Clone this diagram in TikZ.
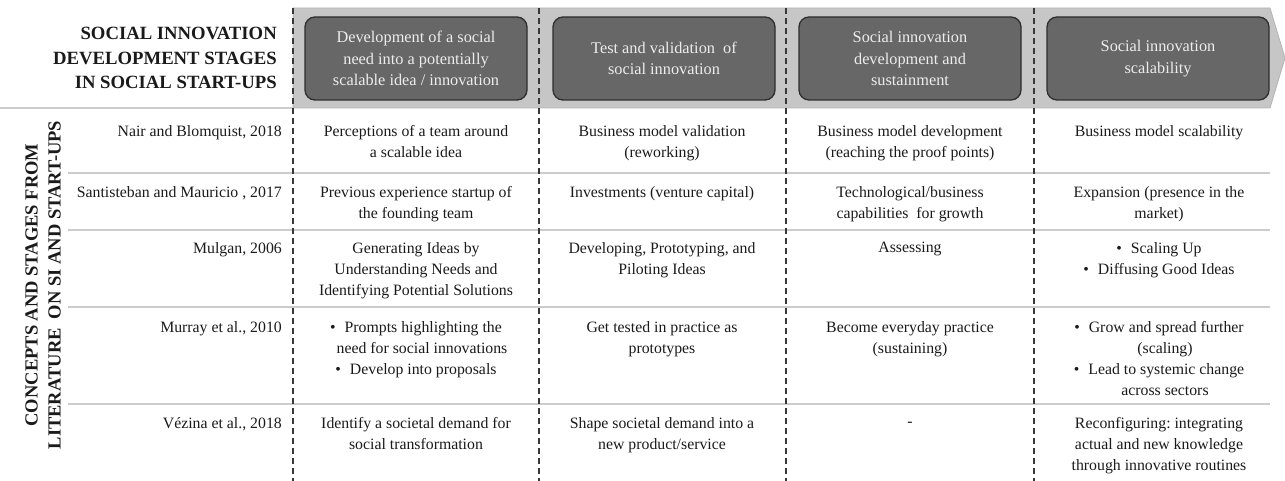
\documentclass[tikz,border=0pt]{standalone}
\usepackage{fontspec}
\setmainfont{Liberation Serif}
\definecolor{bandgray}{HTML}{C6C6C6}
\definecolor{bandedge}{HTML}{B4B4B4}
\definecolor{boxgray}{HTML}{676767}
\definecolor{boxedge}{HTML}{2E2E2E}
\definecolor{boxtext}{HTML}{EDEDED}
\definecolor{rulegray}{HTML}{CCCCCC}
\definecolor{dashgray}{HTML}{383838}
\definecolor{ink}{HTML}{1A1A1A}
\tikzset{
  cell/.style={font=\fontsize{15.8}{21}\selectfont, align=center, anchor=north, inner sep=0pt, text=ink},
  cite/.style={font=\fontsize{15.8}{21}\selectfont, align=right, anchor=north east, inner sep=0pt, text=ink},
  stagebox/.style={draw=boxedge, line width=1.3pt, fill=boxgray, rounded corners=10pt,
    minimum width=222pt, minimum height=83pt, inner sep=0pt, text=boxtext, align=center,
    font=\fontsize{16.3}{21.5}\selectfont},
  titletext/.style={font=\bfseries\fontsize{18.7}{24.5}\selectfont, align=right, inner sep=0pt, text=ink},
  sidetext/.style={font=\bfseries\fontsize{18.5}{23}\selectfont, align=center, inner sep=0pt, text=ink, rotate=90},
  colsep/.style={dashgray, line width=1.3pt, dash pattern=on 6pt off 4pt},
  rowrule/.style={rulegray, line width=1.4pt},
}
\begin{document}
\begin{tikzpicture}[x=1pt,y=-1pt]
\useasboundingbox (0,0) rectangle (1285,481);
% header band (arrow)
\path[fill=bandgray, draw=bandedge, line width=0.8pt]
  (293,8) -- (1270,8) -- (1285,58) -- (1270,108) -- (293,108) -- cycle;
% stage boxes
\node[stagebox] (s1) at (416,58.5) {Development of a social\\need into a potentially\\scalable idea / innovation};
\node[stagebox] (s2) at (664,58.5) {Test and validation\ \ of\\social innovation};
\node[stagebox] (s3) at (910,58.5) {Social innovation\\development and\\sustainment};
\node[stagebox] (s4) at (1158,58.5) {Social innovation\\scalability};
% title
\node[titletext, anchor=east] (title) at (277,58) {SOCIAL INNOVATION\\DEVELOPMENT STAGES\\IN SOCIAL START-UPS};
% side label
\node[sidetext] (side) at (43,285) {CONCEPTS AND STAGES FROM\\LITERATURE\ \ ON SI AND START-UPS};
% rules
\draw[rowrule] (0,108) -- (293,108);
\foreach \yy in {173,230,307,404} \draw[rowrule] (68,\yy) -- (1270,\yy);
% column separators
\foreach \xx in {293,539,786,1034} \draw[colsep] (\xx,8) -- (\xx,481);
% citations
\node[cite] (c1) at (282,125) {Nair and Blomquist, 2018};
\node[cite] (c2) at (282,186) {Santisteban and Mauricio\ , 2017};
\node[cite] (c3) at (282,242) {Mulgan, 2006};
\node[cite] (c4) at (282,321) {Murray et al., 2010};
\node[cite] (c5) at (282,417) {Vézina et al., 2018};
% row 1
\node[cell] (r1a) at (416,125) {Perceptions of a team around\\a scalable\ idea};
\node[cell] (r1b) at (662,125) {Business model validation\\(reworking)};
\node[cell] (r1c) at (910,125) {Business model development\\(reaching the proof points)};
\node[cell] (r1d) at (1159,125) {Business model scalability};
% row 2
\node[cell] (r2a) at (416,186) {Previous experience startup of\\the founding team};
\node[cell] (r2b) at (662,186) {Investments (venture capital)};
\node[cell] (r2c) at (910,186) {Technological/business\\capabilities\ \ for growth};
\node[cell] (r2d) at (1159,186) {Expansion (presence in the\\market)};
% row 3
\node[cell] (r3a) at (416,242) {Generating Ideas by\\Understanding Needs and\\Identifying Potential Solutions};
\node[cell] (r3b) at (662,242) {Developing, Prototyping, and\\Piloting Ideas};
\node[cell] (r3c) at (910,242) {Assessing};
\node[cell] (r3d) at (1159,242) {•\hspace{9pt}Scaling Up\\•\hspace{9pt}Diffusing Good Ideas};
% row 4
\node[cell] (r4a) at (416,321) {•\hspace{9pt}Prompts highlighting the\\\hspace{12pt}need for social innovations\\•\hspace{9pt}Develop into proposals};
\node[cell] (r4b) at (662,321) {Get tested in practice as\\prototypes};
\node[cell] (r4c) at (910,321) {Become everyday practice\\(sustaining)};
\node[cell] (r4d) at (1159,321) {•\hspace{9pt}Grow and spread further\\\hspace{12pt}(scaling)\\•\hspace{9pt}Lead to systemic change\\\hspace{12pt}across sectors};
% row 5
\node[cell] (r5a) at (416,417) {Identify a societal demand for\\social transformation};
\node[cell] (r5b) at (662,417) {Shape societal demand into a\\new product/service};
\node[cell] (r5c) at (910,422) {-};
\node[cell] (r5d) at (1159,417) {Reconfiguring:\ integrating\\actual and new knowledge\\through innovative routines};
\end{tikzpicture}
\end{document}
